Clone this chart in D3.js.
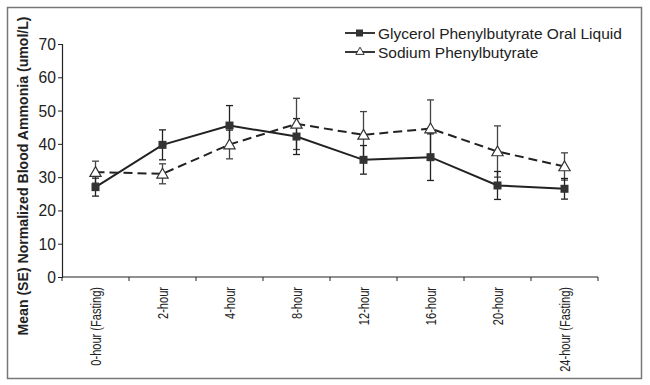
<!DOCTYPE html>
<meta charset="utf-8">
<style>
  body { margin: 0; padding: 0; background: #fff; }
  svg { display: block; background: #fff; }
  text { font-family: "Liberation Sans", Arial, sans-serif; fill: #222; }
</style>
<script src="https://d3js.org/d3.v7.min.js"></script>
<svg id="vis"></svg>
<script>

// data
var timepoints = ["0-hour (Fasting)", "2-hour", "4-hour", "8-hour", "12-hour", "16-hour", "20-hour", "24-hour (Fasting)"];
var glycerolMean = [27.0, 39.7, 45.5, 42.2, 35.2, 36.0, 27.5, 26.5];
var glycerolSE   = [2.7, 4.5, 6.0, 5.4, 4.3, 7.0, 4.2, 3.1];
var sodiumMean   = [31.5, 31.0, 39.8, 46.0, 42.7, 44.6, 37.7, 33.2];
var sodiumSE     = [3.3, 3.0, 4.3, 7.7, 7.0, 8.6, 7.7, 4.1];
var yTicks = [0, 10, 20, 30, 40, 50, 60, 70];
var seriesNames = ["Glycerol Phenylbutyrate Oral Liquid", "Sodium Phenylbutyrate"];

var width = 650, height = 385;
var margin = {left: 62, right: 52, top: 44, bottom: 108};

var svg = d3.select("#vis").attr("width", width).attr("height", height);

// squeeze text horizontally to mimic the condensed face of the original
function condense(sel, k) {
  sel.each(function() {
    var w = this.getComputedTextLength();
    d3.select(this).attr("textLength", w * k).attr("lengthAdjust", "spacingAndGlyphs");
  });
}

// outer frame
svg.append("rect")
  .attr("x", 7.5).attr("y", 7.5)
  .attr("width", 634).attr("height", 371)
  .attr("fill", "none").attr("stroke", "#777").attr("stroke-width", 1.5);

var x = d3.scaleBand().domain(timepoints).range([margin.left, width - margin.right]);
var y = d3.scaleLinear().domain([0, 70]).range([height - margin.bottom, margin.top]);

// y axis
var yAxis = svg.append("g")
  .attr("transform", "translate(" + margin.left + ",0)")
  .call(d3.axisLeft(y).tickValues(yTicks).tickSize(4).tickPadding(2));
yAxis.select(".domain").attr("stroke", "#222").attr("stroke-width", 1.2);
yAxis.selectAll(".tick line").attr("stroke", "#222");
yAxis.selectAll(".tick text")
  .attr("font-size", 17).attr("fill", "#222")
  .style("font-family", "'Liberation Sans', sans-serif")
  .call(condense, 0.92);

// x axis, ticks at band edges
var xAxisG = svg.append("g")
  .attr("transform", "translate(0," + y(0) + ")");
xAxisG.append("line")
  .attr("x1", margin.left).attr("x2", width - margin.right)
  .attr("stroke", "#222").attr("stroke-width", 1.2);
var edges = timepoints.map(function(d) { return x(d); }).concat([x(timepoints[timepoints.length - 1]) + x.bandwidth()]);
xAxisG.selectAll(".edge").data(edges).enter().append("line")
  .attr("x1", function(d) { return d; }).attr("x2", function(d) { return d; })
  .attr("y1", 0).attr("y2", 4).attr("stroke", "#222");
xAxisG.selectAll(".xl").data(timepoints).enter().append("text")
  .attr("transform", function(d) { return "translate(" + (x(d) + x.bandwidth() / 2 + 5) + ",10) rotate(-90)"; })
  .attr("text-anchor", "end")
  .attr("font-size", 14)
  .text(function(d) { return d; })
  .call(condense, 0.79);

// y title
svg.append("text")
  .attr("transform", "translate(28," + 176 + ") rotate(-90)")
  .attr("text-anchor", "middle")
  .attr("font-size", 15)
  .attr("font-weight", "bold")
  .text("Mean (SE) Normalized Blood Ammonia (umol/L)")
  .call(condense, 0.94);

function cx(i) { return x(timepoints[i]) + x.bandwidth() / 2; }

function drawErrors(means, ses, color) {
  var g = svg.append("g").attr("stroke", color).attr("stroke-width", 1.3);
  means.forEach(function(m, i) {
    var lo = y(m - ses[i]), hi = y(m + ses[i]), c = cx(i);
    g.append("line").attr("x1", c).attr("x2", c).attr("y1", lo).attr("y2", hi);
    g.append("line").attr("x1", c - 3.5).attr("x2", c + 3.5).attr("y1", lo).attr("y2", lo);
    g.append("line").attr("x1", c - 3.5).attr("x2", c + 3.5).attr("y1", hi).attr("y2", hi);
  });
}
drawErrors(sodiumMean, sodiumSE, "#444");
drawErrors(glycerolMean, glycerolSE, "#222");

var line = d3.line().x(function(d, i) { return cx(i); }).y(function(d) { return y(d); });

svg.append("path").datum(sodiumMean)
  .attr("d", line).attr("fill", "none")
  .attr("stroke", "#222").attr("stroke-width", 2)
  .attr("stroke-dasharray", "9,5");
svg.append("path").datum(glycerolMean)
  .attr("d", line).attr("fill", "none")
  .attr("stroke", "#222").attr("stroke-width", 2);

var tri = d3.symbol().type(d3.symbolTriangle).size(55);
svg.selectAll(".tri").data(sodiumMean).enter().append("path")
  .attr("d", tri)
  .attr("transform", function(d, i) { return "translate(" + cx(i) + "," + (y(d) + 1) + ")"; })
  .attr("fill", "#fff").attr("stroke", "#333").attr("stroke-width", 1.2);

svg.selectAll(".sq").data(glycerolMean).enter().append("rect")
  .attr("x", function(d, i) { return cx(i) - 4; })
  .attr("y", function(d) { return y(d) - 4; })
  .attr("width", 8).attr("height", 8)
  .attr("fill", "#333");

// legend
var legend = svg.append("g").attr("transform", "translate(345,33)");
seriesNames.forEach(function(name, i) {
  var row = legend.append("g").attr("transform", "translate(0," + (i * 19) + ")");
  row.append("line").attr("x1", 0).attr("x2", 30).attr("stroke", "#222").attr("stroke-width", 1.8);
  if (i === 0) {
    row.append("rect").attr("x", 11).attr("y", -3.5).attr("width", 7).attr("height", 7).attr("fill", "#333");
  } else {
    row.append("path").attr("d", d3.symbol().type(d3.symbolTriangle).size(30))
      .attr("transform", "translate(15,0)")
      .attr("fill", "#fff").attr("stroke", "#333").attr("stroke-width", 1);
  }
  row.append("text").attr("x", 33).attr("y", 5.5).attr("font-size", 15.5).text(name);
});

</script>
